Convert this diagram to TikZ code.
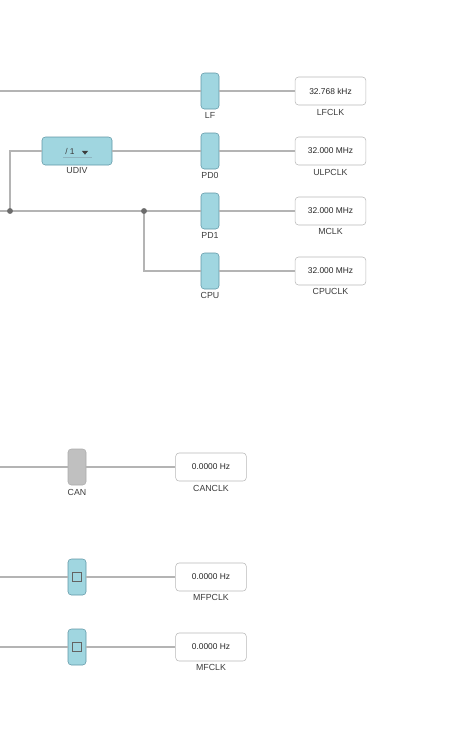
\documentclass[tikz,border=0pt]{standalone}
\usepackage{fontspec}
\setmainfont{Liberation Sans}
\usetikzlibrary{positioning,shapes.geometric}
\definecolor{gatefill}{RGB}{160,214,224}
\definecolor{gateline}{RGB}{95,150,165}
\definecolor{offfill}{RGB}{192,192,192}
\definecolor{offline}{RGB}{172,172,172}
\definecolor{wire}{RGB}{180,180,180}
\definecolor{boxline}{RGB}{185,185,185}
\definecolor{txt}{RGB}{60,60,60}

\begin{document}
\begin{tikzpicture}[x=0.75pt, y=-0.75pt]
        \tikzset{gate/.style={
            draw = gateline,
            fill = gatefill,
            rounded corners = 2.5pt,
            minimum width = 13.5pt,
            minimum height = 27pt,
            inner sep = 0pt,
        }}
        \tikzset{offgate/.style={
            gate,
            draw = offline,
            fill = offfill,
        }}
        \tikzset{clkbox/.style={
            draw = boxline,
            fill = white,
            rounded corners = 2.5pt,
            minimum width = 53pt,
            minimum height = 21pt,
            inner sep = 0pt,
            font = \fontsize{6.3}{7}\selectfont,
            text = black!85,
        }}
        \tikzset{lbl/.style={
            text = txt,
            inner sep = 0pt,
            font = \fontsize{6.6}{8}\selectfont,
        }}
        \tikzset{wire/.style={
            draw = wire,
            line width = 0.8pt,
        }}
        \tikzset{dot/.style={
            circle,
            fill = gray!85!black,
            minimum size = 4.4pt,
            inner sep = 0pt,
        }}
        \useasboundingbox (0,0) rectangle (453,751);

        % upper block
        \coordinate (inLF) at (0,91);
        \coordinate (inM) at (0,211);
        \coordinate (j1) at (10,211);
        \coordinate (j2) at (144,211);

        \node[gate, minimum width = 52.5pt, minimum height = 21pt] (udiv) at (77,151) {};
        \node[text = txt, inner sep = 0pt, font = \fontsize{6.3}{7}\selectfont] (udivval) at (70,151) {/ 1};
        \node[isosceles triangle, shape border rotate = -90, fill = txt, minimum size = 2pt, inner sep = 0.9pt, isosceles triangle apex angle = 80] (udivarr) at (85,152) {};
        \draw[draw = gateline!70, line width = 0.6pt] (63,157.5) -- (92,157.5);

        \node[gate] (lf) at (210,91) {};
        \node[gate] (pd0) at (210,151) {};
        \node[gate] (pd1) at (210,211) {};
        \node[gate] (cpu) at (210,271) {};

        \node[clkbox] (lfclk) at (330.5,91) {32.768 kHz};
        \node[clkbox] (ulpclk) at (330.5,151) {32.000 MHz};
        \node[clkbox] (mclk) at (330.5,211) {32.000 MHz};
        \node[clkbox] (cpuclk) at (330.5,271) {32.000 MHz};

        \node[lbl] (lfL) at (210,115) {LF};
        \node[lbl] (pd0L) at (210,175) {PD0};
        \node[lbl] (pd1L) at (210,235) {PD1};
        \node[lbl] (cpuL) at (210,295) {CPU};
        \node[lbl] (udivL) at (77,171) {UDIV};
        \node[lbl] (lfclkL) at (330.5,112) {LFCLK};
        \node[lbl] (ulpclkL) at (330.5,172) {ULPCLK};
        \node[lbl] (mclkL) at (330.5,231) {MCLK};
        \node[lbl] (cpuclkL) at (330.5,291) {CPUCLK};

        \draw[wire] (inLF) -- (lf.west);
        \draw[wire] (lf.east) -- (lfclk.west);
        \draw[wire] (j1) |- (udiv.west);
        \draw[wire] (udiv.east) -- (pd0.west);
        \draw[wire] (pd0.east) -- (ulpclk.west);
        \draw[wire] (inM) -- (j1) -- (j2) -- (pd1.west);
        \draw[wire] (pd1.east) -- (mclk.west);
        \draw[wire] (j2) |- (cpu.west);
        \draw[wire] (cpu.east) -- (cpuclk.west);
        \node[dot] (j1dot) at (j1) {};
        \node[dot] (j2dot) at (j2) {};

        % lower block
        \coordinate (inCAN) at (0,467);
        \coordinate (inMFP) at (0,577);
        \coordinate (inMF) at (0,647);

        \node[offgate] (can) at (77,467) {};
        \node[gate] (mfp) at (77,577) {};
        \node[gate] (mf) at (77,647) {};
        \node[draw = txt!80, minimum size = 6.5pt, inner sep = 0pt, line width = 0.6pt] (mfpbox) at (mfp) {};
        \node[draw = txt!80, minimum size = 6.5pt, inner sep = 0pt, line width = 0.6pt] (mfbox) at (mf) {};

        \node[clkbox] (canclk) at (211,467) {0.0000 Hz};
        \node[clkbox] (mfpclk) at (211,577) {0.0000 Hz};
        \node[clkbox] (mfclk) at (211,647) {0.0000 Hz};

        \node[lbl] (canL) at (77,492) {CAN};
        \node[lbl] (canclkL) at (211,488) {CANCLK};
        \node[lbl] (mfpclkL) at (211,597.5) {MFPCLK};
        \node[lbl] (mfclkL) at (211,667.5) {MFCLK};

        \draw[wire] (inCAN) -- (can.west);
        \draw[wire] (can.east) -- (canclk.west);
        \draw[wire] (inMFP) -- (mfp.west);
        \draw[wire] (mfp.east) -- (mfpclk.west);
        \draw[wire] (inMF) -- (mf.west);
        \draw[wire] (mf.east) -- (mfclk.west);
\end{tikzpicture}
\end{document}
